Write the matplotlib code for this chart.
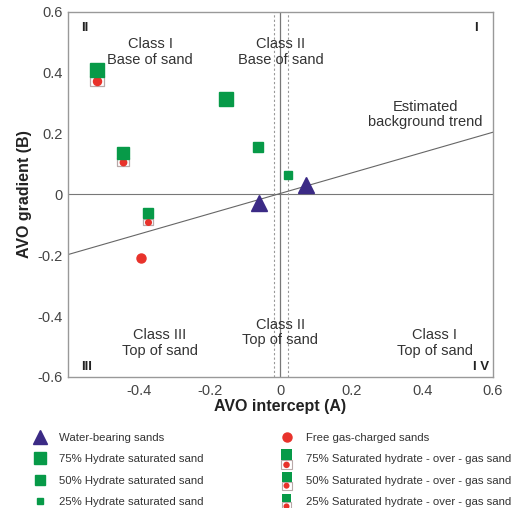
import numpy as np
import matplotlib
matplotlib.use("Agg")
import matplotlib.pyplot as plt
from matplotlib.lines import Line2D
from matplotlib.patches import Rectangle, Circle
from matplotlib.legend_handler import HandlerBase

plt.rcParams['font.family'] = ['Liberation Sans', 'DejaVu Sans']
plt.rcParams['axes.unicode_minus'] = False

# data
water_x = [-0.060, 0.072]
water_y = [-0.028, 0.032]

gas_x = [-0.394]
gas_y = [-0.210]

hyd75_x, hyd75_y = [-0.155], [0.312]
hyd50_x, hyd50_y = [-0.063], [0.156]
hyd25_x, hyd25_y = [0.022], [0.065]

# hydrate-over-gas: square (hydrate) on top, gas circle below
ovg75_x, ovg75_sq, ovg75_gas = [-0.518], [0.410], [0.372]
ovg50_x, ovg50_sq, ovg50_gas = [-0.444], [0.135], [0.105]
ovg25_x, ovg25_sq, ovg25_gas = [-0.375], [-0.063], [-0.091]

trend_x = [-0.6, 0.6]
trend_y = [-0.198, 0.204]

xticks = [-0.4, -0.2, 0, 0.2, 0.4, 0.6]
xtick_labels = ['-0.4', '-0.2', '0', '0.2', '0.4', '0.6']
yticks = [-0.6, -0.4, -0.2, 0, 0.2, 0.4, 0.6]
ytick_labels = ['-0.6', '-0.4', '-0.2', '0', '0.2', '0.4', '0.6']

PURPLE = '#3b2a85'
GREEN = '#079a48'
RED = '#e8322b'
BOXEDGE = '#b9a9a9'
GRAY = '#777777'

# rectangle marker (wider than tall) for the box around the gas circle
box_marker = [(-1, -0.7), (1, -0.7), (1, 0.7), (-1, 0.7), (-1, -0.7)]

fig = plt.figure(figsize=(5.17, 5.08), dpi=100)
ax = fig.add_axes([0.1315, 0.258, 0.822, 0.719])

ax.set_xlim(-0.6, 0.6)
ax.set_ylim(-0.6, 0.6)

# reference lines
ax.axhline(0, color=GRAY, lw=0.8, zorder=1)
ax.axvline(0, color=GRAY, lw=0.9, zorder=1)
ax.axvline(-0.018, color='#999999', lw=0.8, ls=(0, (2, 2)), zorder=1)
ax.axvline(0.020, color='#999999', lw=0.8, ls=(0, (2, 2)), zorder=1)
ax.plot(trend_x, trend_y, color='#666666', lw=0.8, zorder=1)

# markers
ax.plot(water_x, water_y, ls='none', marker='^', ms=11, color=PURPLE, zorder=3)
ax.plot(gas_x, gas_y, ls='none', marker='o', ms=6.5, color=RED, zorder=3)
ax.plot(hyd75_x, hyd75_y, ls='none', marker='s', ms=10, color=GREEN, zorder=3)
ax.plot(hyd50_x, hyd50_y, ls='none', marker='s', ms=7.8, color=GREEN, zorder=3)
ax.plot(hyd25_x, hyd25_y, ls='none', marker='s', ms=5.5, color=GREEN, zorder=3)

for xs, sq, gs, size in [(ovg75_x, ovg75_sq, ovg75_gas, 10),
                         (ovg50_x, ovg50_sq, ovg50_gas, 8),
                         (ovg25_x, ovg25_sq, ovg25_gas, 7)]:
    ax.plot(xs, gs, ls='none', marker=box_marker, ms=size, mfc='white',
            mec=BOXEDGE, mew=0.9, zorder=3)
    ax.plot(xs, gs, ls='none', marker='o', ms=size * 0.58, color=RED, zorder=4)
    ax.plot(xs, sq, ls='none', marker='s', ms=size, color=GREEN, zorder=5)

# annotations
txt = dict(fontsize=10.5, color='#333333', ha='center', va='center', linespacing=1.15)
ax.text(-0.368, 0.467, 'Class I\nBase of sand', **txt)
ax.text(0.0, 0.467, 'Class II\nBase of sand', **txt)
ax.text(0.41, 0.262, 'Estimated\nbackground trend', **txt)
ax.text(-0.34, -0.489, 'Class III\nTop of sand', **txt)
ax.text(0.0, -0.454, 'Class II\nTop of sand', **txt)
ax.text(0.436, -0.489, 'Class I\nTop of sand', **txt)

quad = dict(fontsize=9.5, fontweight='bold', color='#222222', transform=ax.transAxes)
ax.text(0.03, 0.955, 'II', ha='left', va='center', **quad)
ax.text(0.965, 0.955, 'I', ha='right', va='center', **quad)
ax.text(0.03, 0.027, 'III', ha='left', va='center', **quad)
ax.text(0.99, 0.027, 'I V', ha='right', va='center', **quad)

# axes styling
ax.set_xticks(xticks)
ax.set_xticklabels(xtick_labels)
ax.set_yticks(yticks)
ax.set_yticklabels(ytick_labels)
ax.tick_params(axis='both', length=0, labelsize=10.5, labelcolor='#444444')
ax.tick_params(axis='x', pad=5)
ax.tick_params(axis='y', pad=4)
for s in ax.spines.values():
    s.set_color('#999999')
    s.set_linewidth(1.0)
ax.set_xlabel('AVO intercept (A)', fontsize=11.5, fontweight='bold', color='#222222', labelpad=1)
ax.set_ylabel('AVO gradient (B)', fontsize=11.5, fontweight='bold', color='#222222', labelpad=4)


# legend handler for hydrate-over-gas symbol
class OverGasHandler(HandlerBase):
    def __init__(self, sq_w, sq_h, box_h):
        super().__init__()
        self.sq_w = sq_w
        self.sq_h = sq_h
        self.box_h = box_h

    def create_artists(self, legend, orig_handle, xdescent, ydescent,
                       width, height, fontsize, trans):
        cx = width / 2 - xdescent
        cy = height / 2 - ydescent
        total = self.sq_h + self.box_h
        bottom = cy - total / 2 - 0.8
        box = Rectangle((cx - self.sq_w / 2, bottom), self.sq_w, self.box_h,
                        facecolor='white', edgecolor=BOXEDGE, lw=0.8, transform=trans)
        r = min(self.sq_w, self.box_h) * 0.36
        circ = Circle((cx, bottom + self.box_h / 2), r, facecolor=RED,
                      edgecolor='none', transform=trans)
        sq = Rectangle((cx - self.sq_w / 2, bottom + self.box_h), self.sq_w, self.sq_h,
                       facecolor=GREEN, edgecolor='none', transform=trans)
        return [box, circ, sq]


class OverGas:
    pass


h_water = Line2D([], [], ls='none', marker='^', ms=10, color=PURPLE)
h_h75 = Line2D([], [], ls='none', marker='s', ms=9, color=GREEN)
h_h50 = Line2D([], [], ls='none', marker='s', ms=7, color=GREEN)
h_h25 = Line2D([], [], ls='none', marker='s', ms=4.8, color=GREEN)
h_gas = Line2D([], [], ls='none', marker='o', ms=6.5, color=RED)
h_o75, h_o50, h_o25 = OverGas(), OverGas(), OverGas()

handles = [h_water, h_h75, h_h50, h_h25, h_gas, h_o75, h_o50, h_o25]
labels = ['Water-bearing sands', '75% Hydrate saturated sand',
          '50% Hydrate saturated sand', '25% Hydrate saturated sand',
          'Free gas-charged sands', '75% Saturated hydrate - over - gas sand',
          '50% Saturated hydrate - over - gas sand',
          '25% Saturated hydrate - over - gas sand']

leg = fig.legend(handles, labels, ncol=2, loc='upper left',
                 bbox_to_anchor=(0.05, 0.157), frameon=False,
                 fontsize=8.2, labelcolor='#333333',
                 handlelength=1.6, handletextpad=0.9, columnspacing=6.5,
                 labelspacing=1.0, borderaxespad=0,
                 handler_map={h_o75: OverGasHandler(8, 8, 6.5),
                              h_o50: OverGasHandler(7.2, 7.2, 6),
                              h_o25: OverGasHandler(6.8, 6.2, 6)})

fig.savefig('out.png', dpi=100)
